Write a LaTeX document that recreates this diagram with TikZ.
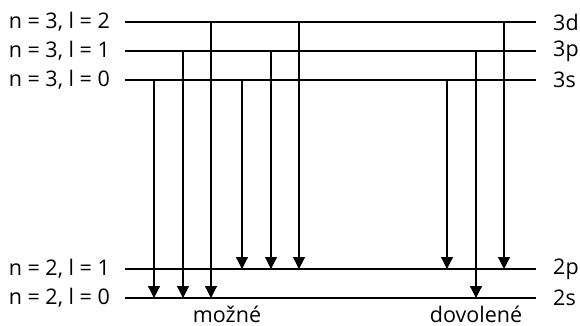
\documentclass[tikz,border=0pt]{standalone}
\usepackage{fontspec}
\setmainfont{Open Sans}
\usetikzlibrary{arrows.meta}

\begin{document}
\begin{tikzpicture}[x=1pt,y=-1pt,
	level/.style={line width=1.2pt},
	trans/.style={line width=1.2pt,-{Triangle[width=12pt,length=12pt]}},
	lab/.style={font=\fontsize{21.5}{24}\selectfont,inner sep=0pt}]
	\useasboundingbox (0,0) rectangle (580,326);
	% levels
	\foreach \n/\y/\l/\r in {3d/22/{n = 3, l = 2}/3d,3p/51/{n = 3, l = 1}/3p,
		3s/80/{n = 3, l = 0}/3s,2p/269/{n = 2, l = 1}/2p,2s/298/{n = 2, l = 0}/2s}{
		\coordinate (\n L) at (125,\y);
		\coordinate (\n R) at (536,\y);
		\draw[level] (\n L) -- (\n R);
		\node[lab,anchor=east] (\n text) at ([xshift=-15pt]\n L) {\l};
		\node[lab,anchor=west] (\n name) at ([xshift=17pt]\n R) {\r};
	}
	% transitions
	\foreach \x/\a/\b in {154/3s/2s,183/3p/2s,211/3d/2s,242/3s/2p,271/3p/2p,
		299/3d/2p,447/3s/2p,476/3p/2s,504/3d/2p}
		\draw[trans] (\x,0 |- \a L) -- (\x,0 |- \b L);
	\node[lab,anchor=base] (mozne) at (227,322) {možné};
	\node[lab,anchor=base] (dovolene) at (476,322) {dovolené};
\end{tikzpicture}
\end{document}
